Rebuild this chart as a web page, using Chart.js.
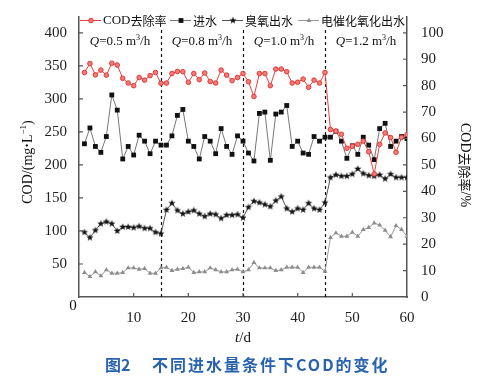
<!DOCTYPE html>
<html>
<head>
<meta charset="utf-8">
<script src="https://cdn.jsdelivr.net/npm/chart.js@4/dist/chart.umd.min.js"></script>
<style>
  html, body { margin: 0; padding: 0; background: #fff; }
</style>
</head>
<body>
<canvas id="c" width="489" height="379"></canvas>
<script>
// data (t in days)
const days = [1, 2, 3, 4, 5, 6, 7, 8, 9, 10, 11, 12, 13, 14, 15,
  16, 17, 18, 19, 20, 21, 22, 23, 24, 25, 26, 27, 28, 29, 30,
  31, 32, 33, 34, 35, 36, 37, 38, 39, 40, 41, 42, 43, 44, 45,
  46, 47, 48, 49, 50, 51, 52, 53, 54, 55, 56, 57, 58, 59, 60];

// COD removal rate, %
const removal = [85, 88.4, 84.1, 85.9, 84, 88.5, 87.8, 82.8, 81, 80, 83.1, 82.1, 83.8, 85, 80.9,
  81, 84.6, 85.4, 85.3, 81.3, 84.6, 82.3, 84.8, 81.6, 81, 85.9, 84, 81.9, 83.1, 84.6,
  81.5, 75.9, 84.6, 84.6, 80, 86.3, 86.3, 85.3, 81, 81.3, 82.5, 79.4, 82.1, 81, 85,
  63.4, 62.8, 61.6, 56.3, 57.1, 57.8, 59, 55, 46.6, 57.8, 62.1, 60.4, 54.8, 60.4, 61.5];

// influent COD, mg/L
const influent = [232, 256, 228, 219, 243, 306, 283, 209, 228, 215, 245, 236, 217, 236, 230,
  230, 244, 275, 284, 236, 228, 209, 243, 236, 217, 255, 228, 216, 244, 236,
  218, 206, 278, 280, 207, 277, 280, 290, 228, 236, 218, 216, 243, 236, 242,
  242, 251, 236, 210, 229, 216, 242, 230, 208, 255, 263, 228, 236, 243, 240];

// ozone effluent COD
const ozone = [98, 90, 101, 111, 114, 111, 100, 106, 106, 105, 107, 104, 104, 98, 96,
  132, 142, 131, 126, 129, 131, 126, 122, 126, 125, 119, 124, 124, 125, 120,
  136, 145, 143, 140, 137, 146, 152, 134, 129, 134, 132, 142, 134, 132, 143,
  181, 185, 183, 183, 186, 194, 187, 184, 183, 185, 179, 186, 181, 181, 181];

// electrocatalytic oxidation effluent COD
const electro = [37, 31, 38, 32, 41, 36, 36, 37, 44, 44, 42, 43, 36, 36, 44,
  45, 40, 42, 43, 45, 37, 38, 38, 44, 41, 38, 38, 41, 42, 38,
  41, 52, 44, 44, 44, 40, 41, 45, 45, 45, 37, 45, 45, 45, 39,
  90, 97, 92, 92, 98, 92, 102, 105, 112, 109, 101, 91, 108, 102, 92];

const seriesNames = ['COD去除率', '进水', '臭氧出水', '电催化氧化出水'];
const splitDays = [15, 30, 45];
const phaseBounds = [0, 15, 30, 45, 60];
const flowRates = ['0.5', '0.8', '1.0', '1.2'];

const serif = '"Liberation Serif", "Times New Roman", serif';
const cjk = '"Noto Sans CJK SC", "Noto Sans", sans-serif';

// filled five point star used as marker
function starImage(r, color) {
  const cv = document.createElement('canvas');
  cv.width = cv.height = Math.ceil(r * 2 + 2);
  const g = cv.getContext('2d');
  const c = cv.width / 2;
  g.fillStyle = color;
  g.beginPath();
  for (let i = 0; i < 10; i++) {
    const rad = i % 2 === 0 ? r : r * 0.42;
    const a = -Math.PI / 2 + i * Math.PI / 5;
    const px = c + rad * Math.cos(a), py = c + rad * Math.sin(a);
    if (i === 0) g.moveTo(px, py); else g.lineTo(px, py);
  }
  g.closePath();
  g.fill();
  return cv;
}
const star = starImage(3.8, '#111');

const toXY = vals => vals.map((v, i) => ({ x: days[i], y: v }));

const styles = [
  { line: '#e8413c', style: 'circle', r: 2.3, fill: '#f47a7a', border: '#e03a35' },
  { line: '#777', style: 'rect', r: 3.4, fill: '#111', border: '#111' },
  { line: '#555', style: star, r: 3.8, fill: '#111', border: '#111' },
  { line: '#9a9a9a', style: 'triangle', r: 2.8, fill: '#8c8c8c', border: '#8c8c8c' }
];

// draw a run of text pieces with different fonts
function drawRich(ctx, parts, x, y, align) {
  let total = 0;
  parts.forEach(p => { ctx.font = p.font; total += ctx.measureText(p.t).width; });
  let cx = align === 'center' ? x - total / 2 : x;
  parts.forEach(p => {
    ctx.font = p.font;
    ctx.fillText(p.t, cx, y + (p.dy || 0));
    cx += ctx.measureText(p.t).width;
  });
}

function drawMarker(ctx, s, x, y) {
  ctx.fillStyle = s.fill;
  ctx.strokeStyle = s.border;
  ctx.lineWidth = 1;
  if (s.style === 'circle') {
    ctx.beginPath(); ctx.arc(x, y, s.r, 0, Math.PI * 2); ctx.fill(); ctx.stroke();
  } else if (s.style === 'rect') {
    const h = s.r * Math.SQRT1_2;
    ctx.fillRect(x - h, y - h, h * 2, h * 2);
  } else if (s.style === 'triangle') {
    ctx.beginPath();
    ctx.moveTo(x, y - s.r); ctx.lineTo(x + s.r * 0.87, y + s.r / 2); ctx.lineTo(x - s.r * 0.87, y + s.r / 2);
    ctx.closePath(); ctx.fill();
  } else {
    ctx.drawImage(s.style, x - s.style.width / 2, y - s.style.height / 2);
  }
}

const overlay = {
  id: 'overlay',
  beforeDatasetsDraw(chart) {
    const { ctx, chartArea: a, scales: { x } } = chart;
    ctx.save();
    ctx.strokeStyle = '#111';
    ctx.lineWidth = 1.2;
    ctx.setLineDash([3, 3]);
    splitDays.forEach(d => {
      const px = Math.round(x.getPixelForValue(d)) + 0.5;
      ctx.beginPath(); ctx.moveTo(px, a.top + 13); ctx.lineTo(px, a.bottom); ctx.stroke();
    });
    ctx.restore();
  },
  afterDraw(chart) {
    const { ctx, chartArea: a, scales: { x, y, y1 } } = chart;
    ctx.save();
    // inward tick marks
    ctx.strokeStyle = '#555';
    ctx.lineWidth = 1.2;
    ctx.beginPath();
    y.ticks.forEach(t => { if (t.value > 0) { const p = y.getPixelForValue(t.value); ctx.moveTo(a.left, p); ctx.lineTo(a.left + 4, p); } });
    y1.ticks.forEach(t => { if (t.value > 0) { const p = y1.getPixelForValue(t.value); ctx.moveTo(a.right, p); ctx.lineTo(a.right - 4, p); } });
    x.ticks.forEach(t => { if (t.value > 0 && t.value < 60) { const p = x.getPixelForValue(t.value); ctx.moveTo(p, a.bottom); ctx.lineTo(p, a.bottom - 4); } });
    ctx.stroke();

    // flow rate labels
    ctx.fillStyle = '#111';
    ctx.textBaseline = 'middle';
    ctx.textAlign = 'left';
    flowRates.forEach((q, i) => {
      const cx = x.getPixelForValue((phaseBounds[i] + phaseBounds[i + 1]) / 2);
      drawRich(ctx, [
        { t: 'Q', font: 'italic 13px ' + serif },
        { t: '=' + q + ' m', font: '13px ' + serif },
        { t: '3', font: '8px ' + serif, dy: -4 },
        { t: '/h', font: '13px ' + serif }
      ], cx, 42, 'center');
    });

    // legend
    const legendX = [80, 170, 222, 298];
    legendX.forEach((lx, i) => {
      const s = styles[i];
      ctx.strokeStyle = s.line;
      ctx.lineWidth = 1;
      ctx.beginPath(); ctx.moveTo(lx, 20.5); ctx.lineTo(lx + 21, 20.5); ctx.stroke();
      drawMarker(ctx, s, lx + 11, 20.5);
      ctx.fillStyle = '#111';
      const name = seriesNames[i];
      if (name.startsWith('COD')) {
        drawRich(ctx, [{ t: 'COD', font: '13px ' + serif }, { t: name.slice(3), font: '12px ' + cjk }], lx + 23, 21, 'left');
      } else {
        drawRich(ctx, [{ t: name, font: '12px ' + cjk }], lx + 23, 21, 'left');
      }
    });

    // left axis title
    ctx.save();
    ctx.translate(28, 162);
    ctx.rotate(-Math.PI / 2);
    ctx.fillStyle = '#111';
    drawRich(ctx, [
      { t: 'COD/(mg', font: '14px ' + serif },
      { t: '·', font: 'bold 14px ' + serif },
      { t: 'L', font: '14px ' + serif },
      { t: '−1', font: '9px ' + serif, dy: -4 },
      { t: ')', font: '14px ' + serif }
    ], 0, 0, 'center');
    ctx.restore();

    // right axis title
    ctx.save();
    ctx.translate(465, 165);
    ctx.rotate(Math.PI / 2);
    ctx.fillStyle = '#111';
    drawRich(ctx, [
      { t: 'COD', font: '14px ' + serif },
      { t: '去除率', font: '13px ' + cjk },
      { t: '/%', font: '14px ' + serif }
    ], 0, 0, 'center');
    ctx.restore();

    // shared origin label
    ctx.font = '15px ' + serif;
    ctx.textAlign = 'center';
    ctx.fillText('0', 73, 306);
    ctx.textAlign = 'left';

    // x title
    drawRich(ctx, [{ t: 't', font: 'italic 15px ' + serif }, { t: '/d', font: '15px ' + serif }], 243, 338, 'center');

    // caption
    ctx.fillStyle = '#2a63ad';
    ctx.font = 'bold 16px ' + cjk;
    ctx.fillText('图2', 105, 365);
    ctx.letterSpacing = '2px';
    ctx.fillText('不同进水量条件下COD的变化', 152, 365);
    ctx.restore();
  }
};

const tickFont = { family: serif, size: 15 };

new Chart(document.getElementById('c'), {
  type: 'line',
  data: {
    datasets: [removal, influent, ozone, electro].map((vals, i) => ({
      label: seriesNames[i],
      data: toXY(vals),
      yAxisID: i === 0 ? 'y1' : 'y',
      borderColor: styles[i].line,
      borderWidth: 1,
      pointStyle: styles[i].style,
      pointRadius: styles[i].r,
      pointBackgroundColor: styles[i].fill,
      pointBorderColor: styles[i].border,
      pointBorderWidth: i === 0 ? 1 : 0,
      tension: 0
    }))
  },
  options: {
    responsive: false,
    animation: false,
    layout: { padding: { top: 17, left: 0, right: 0, bottom: 0 } },
    plugins: { legend: { display: false }, tooltip: { enabled: false } },
    scales: {
      x: {
        type: 'linear', min: 0, max: 60,
        ticks: { stepSize: 10, font: tickFont, color: '#222', padding: 4, maxRotation: 0,
          callback: v => (v === 0 ? '' : v) },
        grid: { display: false },
        border: { display: true, color: '#555', width: 1.5 },
        afterFit: s => { s.height = 82; }
      },
      y: {
        position: 'left', min: 0, max: 424,
        ticks: { stepSize: 50, includeBounds: false, font: tickFont, color: '#222', padding: 4,
          callback: v => (v === 0 ? '' : v) },
        grid: { display: false },
        border: { display: true, color: '#555', width: 1.5 },
        afterFit: s => { s.width = 79; }
      },
      y1: {
        position: 'right', min: 0, max: 106,
        ticks: { stepSize: 10, includeBounds: false, font: tickFont, color: '#222', padding: 6 },
        grid: { display: false },
        border: { display: true, color: '#555', width: 1.5 },
        afterFit: s => { s.width = 82; }
      }
    }
  },
  plugins: [overlay]
});
</script>
</body>
</html>
